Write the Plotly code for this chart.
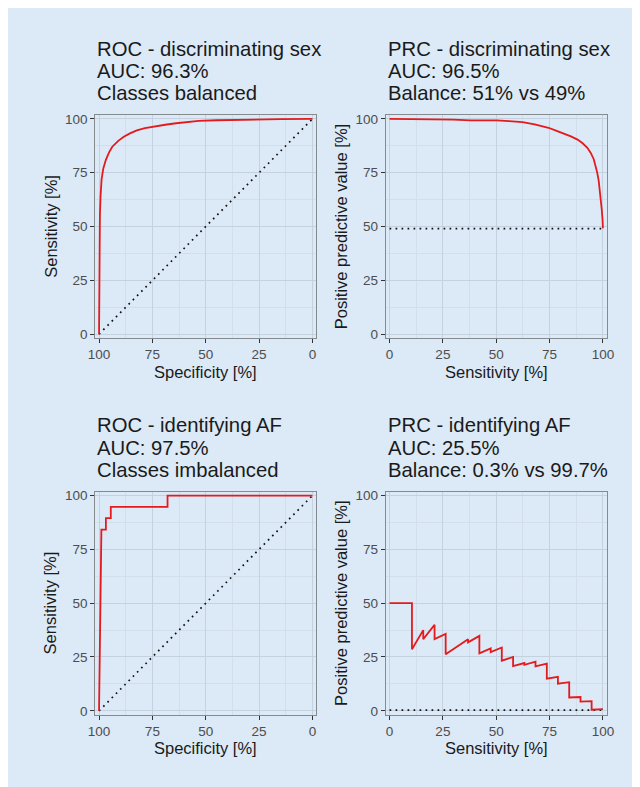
import plotly.graph_objects as go

# ---------------- data ----------------
roc_sex_spec = [100, 99.9, 99.8, 99.6, 99.3, 98.8, 98.0, 96.8, 95.3, 93.8, 91.0, 88.4, 85.5,
                82.3, 78.5, 74.6, 69.0, 63.9, 58.0, 53.2, 45.0, 36.0, 25.0, 15.0, 0]
roc_sex_sens = [0, 20, 40, 55, 64, 72, 77, 81, 84.5, 87.1, 89.8, 91.7, 93.3,
                94.7, 95.7, 96.5, 97.3, 98.0, 98.7, 99.1, 99.4, 99.6, 99.8, 99.9, 100]

prc_sex_sens = [0, 10, 20, 30, 38, 45, 50.2, 56, 62.3, 68, 74.5, 78, 82, 85, 88.1, 90.5,
                92.7, 94.3, 95.7, 96.6, 97.3, 98.0, 98.5, 99.0, 99.4, 99.8, 100]
prc_sex_ppv = [100, 100, 100, 99.7, 99.3, 99.5, 99.3, 99.0, 98.5, 97.5, 95.9, 94.6, 93.1, 91.9,
               90.4, 88.7, 86.6, 84.2, 81.3, 78.5, 75.2, 71.5, 67.5, 63.0, 58.4, 53.5, 49.2]
prc_sex_baseline = 49

roc_af_spec = [100, 99.8, 99.6, 99.4, 99.3, 99.1, 99.0, 98.9, 96.8, 96.8, 94.5, 94.5, 67.9, 67.9, 0]
roc_af_sens = [0, 15.8, 42.1, 52.6, 63.2, 73.7, 78.9, 84.2, 84.2, 89.5, 89.5, 94.7, 94.7, 100, 100]

prc_af_sens = [0, 10.5, 10.5, 15.8, 15.8, 21.1, 21.1, 26.3, 26.3, 36.8, 36.8, 42.1, 42.1, 47.4,
               47.4, 52.6, 52.6, 57.9, 57.9, 63.2, 63.2, 68.4, 68.4, 73.7, 73.7, 78.9, 78.9,
               84.2, 84.2, 89.5, 89.5, 94.7, 94.7, 100]
prc_af_ppv = [50, 50, 28.6, 37.5, 33.3, 40.0, 33.3, 35.7, 26.3, 33.3, 31.8, 34.8, 26.7, 29.0,
              27.3, 29.4, 23.3, 25.0, 20.8, 22.2, 21.4, 22.8, 20.6, 21.9, 14.9, 15.8, 12.6,
              13.3, 6.2, 6.4, 4.3, 4.5, 0.5, 0.8]
prc_af_baseline = 0.3

diag_x = [100, 0]
diag_y = [0, 100]
base_x = [0, 100]

tick_vals = [0, 25, 50, 75, 100]
tick_text = ["0", "25", "50", "75", "100"]

titles = [
    ["ROC - discriminating sex", "AUC: 96.3%", "Classes balanced"],
    ["PRC - discriminating sex", "AUC: 96.5%", "Balance: 51% vs 49%"],
    ["ROC - identifying AF", "AUC: 97.5%", "Classes imbalanced"],
    ["PRC - identifying AF", "AUC: 25.5%", "Balance: 0.3% vs 99.7%"],
]
x_titles = ["Specificity [%]", "Sensitivity [%]", "Specificity [%]", "Sensitivity [%]"]
y_titles = ["Sensitivity [%]", "Positive predictive value [%]",
            "Sensitivity [%]", "Positive predictive value [%]"]

# ---------------- styling ----------------
W, H = 640, 787
BG = "#dce9f6"
RED = "#e41a1c"
FONT = "Liberation Sans, Arial, sans-serif"
GRID_MAJOR = "#c4d1de"
GRID_MINOR = "#d2deea"

# panel pixel boxes in figure coordinates (left, right, top, bottom)
boxes = [(82, 308, 105, 330), (379, 605, 105, 330),
         (82, 308, 485, 710), (379, 605, 485, 710)]

fig = go.Figure()

curves = [
    (roc_sex_spec, roc_sex_sens, diag_x, diag_y),
    (prc_sex_sens, prc_sex_ppv, base_x, [prc_sex_baseline] * 2),
    (roc_af_spec, roc_af_sens, diag_x, diag_y),
    (prc_af_sens, prc_af_ppv, base_x, [prc_af_baseline] * 2),
]

for i, (cx, cy, rx, ry) in enumerate(curves):
    xa = "x" if i == 0 else f"x{i+1}"
    ya = "y" if i == 0 else f"y{i+1}"
    fig.add_trace(go.Scatter(x=rx, y=ry, mode="lines", xaxis=xa, yaxis=ya,
                             line=dict(color="#111111", width=1.7, dash="1.7px,4.3px"),
                             showlegend=False, hoverinfo="skip"))
    fig.add_trace(go.Scatter(x=cx, y=cy, mode="lines", xaxis=xa, yaxis=ya,
                             line=dict(color=RED, width=1.8),
                             showlegend=False))

layout = dict(
    width=W, height=H,
    margin=dict(l=0, r=0, t=0, b=0, pad=0),
    paper_bgcolor=BG, plot_bgcolor=BG,
    font=dict(family=FONT, color="#1a1a1a"),
    showlegend=False,
)

annotations = []
for i, (l, r, t, b) in enumerate(boxes):
    sx = "" if i == 0 else str(i + 1)
    reversed_x = (i % 2 == 0)
    xr = [101.8, -1.8] if reversed_x else [-1.8, 101.8]
    axis_common = dict(
        tickvals=tick_vals, ticktext=tick_text,
        showgrid=True, gridcolor=GRID_MAJOR, gridwidth=1,
        minor=dict(dtick=12.5, tick0=0, showgrid=True, gridcolor=GRID_MINOR, gridwidth=1),
        showline=True, linecolor="#858a8f", linewidth=1.2, mirror=True,
        ticks="outside", ticklen=4, tickwidth=1, tickcolor="#333333",
        tickfont=dict(family=FONT, size=13.5, color="#4d4d4d"),
        zeroline=False, fixedrange=True,
    )
    layout["xaxis" + sx] = dict(axis_common, domain=[l / W, r / W], range=xr,
                                anchor="y" + sx)
    layout["yaxis" + sx] = dict(axis_common, domain=[1 - b / H, 1 - t / H], range=[-1.8, 101.8],
                                anchor="x" + sx)
    # titles (three lines)
    for k, line in enumerate(titles[i]):
        annotations.append(dict(
            text=line, x=l / W, y=1 - (t - 67 + 22.6 * k) / H,
            xref="paper", yref="paper", xanchor="left", yanchor="middle",
            showarrow=False, font=dict(family=FONT, size=20.3, color="#1a1a1a")))
    # x axis title
    annotations.append(dict(
        text=x_titles[i], x=(l + r) / 2 / W, y=1 - (b + 34) / H,
        xref="paper", yref="paper", xanchor="center", yanchor="middle",
        showarrow=False, font=dict(family=FONT, size=16.5, color="#1a1a1a")))
    # y axis title
    annotations.append(dict(
        text=y_titles[i], x=(l - 46) / W, y=1 - (t + b) / 2 / H,
        xref="paper", yref="paper", xanchor="center", yanchor="middle", textangle=-90,
        showarrow=False, font=dict(family=FONT, size=16.5, color="#1a1a1a")))

layout["annotations"] = annotations

fig.update_layout(**layout)
fig.write_html("out.html")
